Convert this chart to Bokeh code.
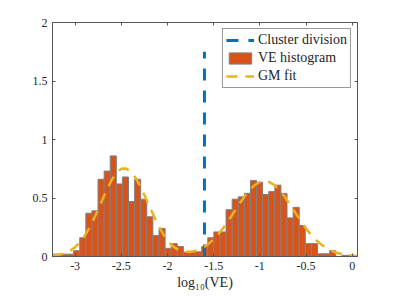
import numpy as np
from bokeh.plotting import figure
from bokeh.models import Range1d, LinearAxis, FixedTicker, Legend, LegendItem, ColumnDataSource
from bokeh.embed import file_html
from bokeh.resources import INLINE

# ---- data ----
bin_start = -3.28
bin_width = 0.066
ve_hist_density = [0.02, 0.02, 0.02, 0.02, 0.05, 0.16, 0.37, 0.39, 0.66, 0.73,
                   0.86, 0.62, 0.68, 0.47, 0.66, 0.49, 0.34, 0.18, 0.24, 0.07,
                   0.11, 0.085, 0.037, 0.037, 0.04, 0.085, 0.16, 0.21, 0.21, 0.40,
                   0.49, 0.51, 0.54, 0.65, 0.635, 0.53, 0.555, 0.61, 0.54, 0.33,
                   0.42, 0.265, 0.11, 0.11, 0.023, 0.023, 0.05, 0.0, 0.01, 0.01]

gm_x = [-3.25, -3.20, -3.15, -3.10, -3.05, -3.00, -2.95, -2.90, -2.85, -2.80,
        -2.75, -2.70, -2.65, -2.60, -2.55, -2.50, -2.45, -2.40, -2.35, -2.30,
        -2.25, -2.20, -2.15, -2.10, -2.05, -2.00, -1.95, -1.90, -1.85, -1.80,
        -1.75, -1.70, -1.65, -1.60, -1.55, -1.50, -1.45, -1.40, -1.35, -1.30,
        -1.25, -1.20, -1.15, -1.10, -1.05, -1.00, -0.95, -0.90, -0.85, -0.80,
        -0.75, -0.70, -0.65, -0.60, -0.55, -0.50, -0.45, -0.40, -0.35, -0.30,
        -0.25, -0.20, -0.15, -0.10, -0.05, 0.00, 0.05]
gm_density = [0.006, 0.011, 0.019, 0.032, 0.051, 0.080, 0.120, 0.172, 0.238, 0.316,
              0.403, 0.494, 0.583, 0.659, 0.717, 0.750, 0.753, 0.728, 0.678, 0.607,
              0.525, 0.437, 0.349, 0.268, 0.195, 0.137, 0.093, 0.064, 0.047, 0.040,
              0.040, 0.048, 0.063, 0.084, 0.112, 0.147, 0.190, 0.240, 0.295, 0.355,
              0.416, 0.475, 0.531, 0.578, 0.614, 0.637, 0.645, 0.637, 0.614, 0.578,
              0.531, 0.475, 0.416, 0.355, 0.295, 0.240, 0.190, 0.147, 0.111, 0.082,
              0.059, 0.041, 0.028, 0.019, 0.012, 0.008, 0.005]

cluster_division = -1.6
division_top = 1.75

x_ticks = [-3, -2.5, -2, -1.5, -1, -0.5, 0]
x_tick_labels = ["-3", "-2.5", "-2", "-1.5", "-1", "-0.5", "0"]
y_ticks = [0, 0.5, 1, 1.5, 2]
y_tick_labels = ["0", "0.5", "1", "1.5", "2"]

# ---- build ----
n = len(ve_hist_density)
lefts = bin_start + bin_width * np.arange(n)
hist_src = ColumnDataSource(dict(left=lefts, right=lefts + bin_width,
                                 top=ve_hist_density, bottom=[0] * n))

FONT = "Liberation Serif"
TXT = "#262626"
AX = "#555555"

p = figure(width=395, height=296, x_range=Range1d(-3.245, 0.057), y_range=Range1d(0, 2),
           output_backend="svg", toolbar_location=None,
           min_border_left=52, min_border_right=38, min_border_top=22, min_border_bottom=40)
p.xgrid.visible = False
p.ygrid.visible = False
p.outline_line_color = None
p.background_fill_color = "white"

bars = p.quad(left="left", right="right", top="top", bottom="bottom", source=hist_src,
              fill_color="#D95319", line_color="#808080", line_width=1)
div = p.line([cluster_division, cluster_division], [0, division_top],
             line_color="#0072BD", line_width=3, line_dash="12 10")
gm = p.line(gm_x, gm_density, line_color="#EDB120", line_width=2.5, line_dash="11 8")

def style(ax, ticks, labels, show):
    ax.ticker = FixedTicker(ticks=ticks)
    ax.major_label_overrides = {t: (l if show else "") for t, l in zip(ticks, labels)}
    ax.axis_line_color = AX
    ax.major_tick_line_color = AX
    ax.major_tick_in = 3
    ax.major_tick_out = 0
    ax.minor_tick_in = 0
    ax.minor_tick_out = 0
    ax.major_label_text_font = FONT
    ax.major_label_text_color = TXT
    ax.major_label_text_font_size = "12px"
    ax.major_label_standoff = 5 if show else 0

style(p.xaxis[0], x_ticks, x_tick_labels, True)
style(p.yaxis[0], y_ticks, y_tick_labels, True)
p.xaxis[0].major_label_standoff = 5
p.xaxis[0].axis_label = "log₁₀(VE)"
p.xaxis[0].axis_label_text_font = FONT
p.xaxis[0].axis_label_text_font_style = "normal"
p.xaxis[0].axis_label_text_font_size = "14px"
p.xaxis[0].axis_label_text_color = TXT
p.xaxis[0].axis_label_standoff = 2

top_ax = LinearAxis()
style(top_ax, x_ticks, x_tick_labels, False)
p.add_layout(top_ax, "above")
right_ax = LinearAxis()
style(right_ax, y_ticks, y_tick_labels, False)
p.add_layout(right_ax, "right")

legend = Legend(items=[LegendItem(label="Cluster division", renderers=[div]),
                       LegendItem(label="VE histogram", renderers=[bars]),
                       LegendItem(label="GM fit", renderers=[gm])],
                location="top_right")
legend.label_text_font = FONT
legend.label_text_font_size = "14px"
legend.label_text_color = TXT
legend.border_line_color = "#333333"
legend.border_line_width = 1
legend.background_fill_color = "white"
legend.background_fill_alpha = 1
legend.glyph_width = 28
legend.glyph_height = 14
legend.label_height = 14
legend.label_standoff = 4
legend.padding = 3
legend.spacing = 2
legend.margin = 6
p.add_layout(legend)

open("out.html", "w").write(file_html(p, INLINE))
